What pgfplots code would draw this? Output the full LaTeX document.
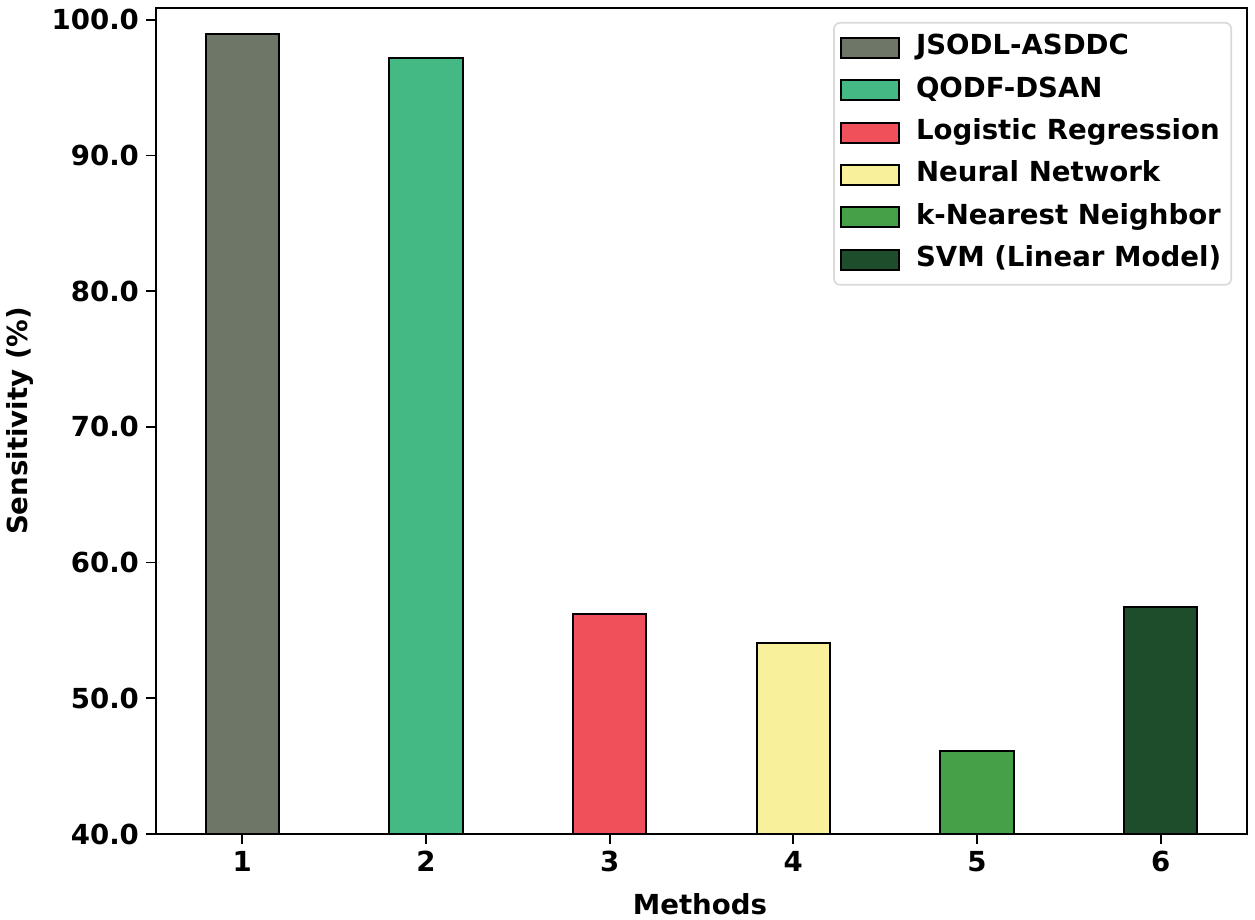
\documentclass[border=0pt]{standalone}
\usepackage{fontspec}
\setmainfont{DejaVu Sans}
\usepackage{pgfplots}
\pgfplotsset{compat=1.18}
\definecolor{cA}{HTML}{6E7667}
\definecolor{cB}{HTML}{44B983}
\definecolor{cC}{HTML}{EF505A}
\definecolor{cD}{HTML}{F8F09B}
\definecolor{cE}{HTML}{46A047}
\definecolor{cF}{HTML}{1E4D2B}
\newcommand{\ff}{\bfseries\fontsize{13.8}{16}\selectfont}
\begin{document}
\begin{tikzpicture}
\useasboundingbox (-78pt,-43pt) rectangle (549.5pt,417pt);
\begin{axis}[
  at={(0,0)}, anchor=south west,
  scale only axis, width=545.5pt, height=413pt,
  xmin=0.53, xmax=6.47, ymin=40, ymax=100.87,
  xtick={1,2,3,4,5,6},
  ytick={40,50,60,70,80,90,100},
  tick align=outside, major tick length=5pt,
  tick style={black, line width=0.9pt},
  axis line style={line width=0.9pt},
  xtick pos=bottom, ytick pos=left,
  /pgf/number format/assume math mode=true,
  yticklabel style={/pgf/number format/.cd, fixed, fixed zerofill, precision=1},
  tick label style={font=\ff},
  every axis y label/.style={at={(axis description cs:-0.1247,0.5)}, rotate=90, anchor=center, font=\ff},
  every axis x label/.style={at={(axis description cs:0.4986,-0.085)}, anchor=center, font=\ff},
  xlabel={Methods},
  ylabel={Sensitivity (\%)},
  legend cell align=left,
  legend image code/.code={\draw[#1, line width=1pt, sharp corners] (0pt,-5pt) rectangle (29pt,5pt);},
  legend style={at={([xshift=-7.5pt,yshift=-7pt]rel axis cs:1,1)}, anchor=north east,
    draw=black!15, line width=0.8pt, rounded corners=3pt, font=\ff,
    inner xsep=3pt, inner ysep=4pt,
    nodes={text height=10pt, text depth=3pt, inner ysep=2pt},
    /tikz/row sep=4.2pt, /tikz/column sep=6pt},
  bar width=0.4,
]
\addplot[ybar, bar shift=0pt, fill=cA, draw=black, line width=1pt] coordinates {(1,98.93)};
\addlegendentry{JSODL-ASDDC}
\addplot[ybar, bar shift=0pt, fill=cB, draw=black, line width=1pt] coordinates {(2,97.16)};
\addlegendentry{QODF-DSAN}
\addplot[ybar, bar shift=0pt, fill=cC, draw=black, line width=1pt] coordinates {(3,56.19)};
\addlegendentry{Logistic Regression}
\addplot[ybar, bar shift=0pt, fill=cD, draw=black, line width=1pt] coordinates {(4,54.08)};
\addlegendentry{Neural Network}
\addplot[ybar, bar shift=0pt, fill=cE, draw=black, line width=1pt] coordinates {(5,46.12)};
\addlegendentry{k-Nearest Neighbor}
\addplot[ybar, bar shift=0pt, fill=cF, draw=black, line width=1pt] coordinates {(6,56.75)};
\addlegendentry{SVM (Linear Model)}
\end{axis}
\end{tikzpicture}
\end{document}
